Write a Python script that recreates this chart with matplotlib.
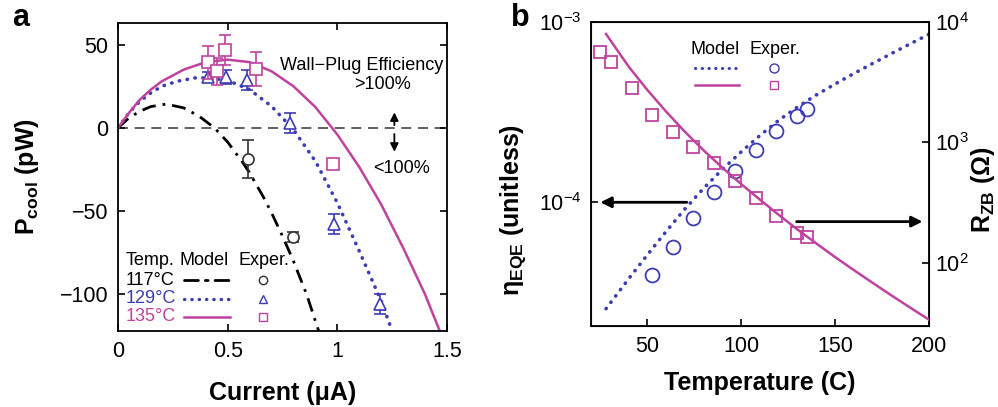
import matplotlib
matplotlib.use("Agg")
import matplotlib.pyplot as plt
from matplotlib.ticker import FixedLocator, NullLocator, FixedFormatter

plt.rcParams['font.family'] = ['Liberation Sans', 'DejaVu Sans']
plt.rcParams['mathtext.fontset'] = 'custom'
plt.rcParams['mathtext.rm'] = 'Liberation Sans'
plt.rcParams['mathtext.it'] = 'Liberation Sans:italic'
plt.rcParams['mathtext.bf'] = 'Liberation Sans:bold'
plt.rcParams['axes.unicode_minus'] = True

BLUE = '#3c3cb4'
MAGENTA = '#c0429e'
DOTS = (0, (0.1, 2.1))
DASHDOT = (0, (5, 2.5, 1, 2.5))

# ---- panel a: cooling power vs current ----
# model curves
i_117 = [0, 0.05, 0.1, 0.15, 0.22, 0.3, 0.37, 0.44, 0.5, 0.57, 0.6, 0.663, 0.7, 0.75, 0.8, 0.86, 0.915]
p_117 = [0, 6, 10, 12.8, 14.3, 12, 7, 0, -8.5, -21, -27, -41.5, -51, -65, -80, -100, -122]

i_129 = [0, 0.05, 0.1, 0.15, 0.2, 0.27, 0.35, 0.42, 0.5, 0.6, 0.7, 0.8, 0.9, 1.0, 1.1, 1.2, 1.25]
p_129 = [0, 9, 16, 21, 25, 28, 30, 30, 28.5, 23, 13, -1, -20, -45, -74, -104, -122]

i_135 = [0, 0.05, 0.1, 0.15, 0.2, 0.3, 0.4, 0.5, 0.6, 0.7, 0.8, 0.9, 1.0, 1.1, 1.2, 1.3, 1.4, 1.47]
p_135 = [0, 9, 17, 23, 28, 35, 39.5, 41, 39.5, 34, 25, 12.5, -4, -23.5, -46, -72, -100, -123]

# measurements
exp_i_117 = [0.595, 0.797]
exp_p_117 = [-18.7, -65.5]
exp_e_117 = [11.5, 3]

exp_i_129 = [0.412, 0.493, 0.588, 0.785, 0.984, 1.196]
exp_p_129 = [30.5, 30.5, 29, 3, -58, -106]
exp_e_129 = [3, 4, 6, 6, 6, 6]

exp_i_135 = [0.41, 0.45, 0.49, 0.63, 0.979]
exp_p_135 = [39.3, 34, 46.5, 35.3, -21.9]
exp_e_135 = [10, 8, 9, 10, 2]

# ---- panel b: EQE and zero-bias resistance vs temperature ----
t_model = [28, 40, 50, 60, 70, 80, 90, 100, 110, 120, 130, 140, 150, 160, 170, 180, 190, 200]
eqe_model = [2.57e-5, 3.76e-5, 5.11e-5, 6.89e-5, 9.18e-5, 1.197e-4, 1.524e-4, 1.905e-4, 2.35e-4,
             2.85e-4, 3.38e-4, 3.94e-4, 4.53e-4, 5.18e-4, 5.89e-4, 6.68e-4, 7.57e-4, 8.55e-4]
rzb_model = [7943, 4266, 2723, 1799, 1222, 855, 614, 449, 333, 249, 188, 144, 111, 86.5,
             67.8, 53.3, 42.2, 33.5]

t_exp = [25, 30.5, 42, 52.5, 63.5, 74.5, 85.7, 96.5, 107.6, 118.6, 129.6, 135.1]
rzb_exp = [5598, 4677, 2844, 1687, 1225, 919, 668, 480, 343, 244, 177, 164]
t_eqe_exp = t_exp[3:]
eqe_exp = [3.95e-5, 5.67e-5, 8.15e-5, 1.145e-4, 1.50e-4, 1.95e-4, 2.48e-4, 3.01e-4, 3.28e-4]

fig = plt.figure(figsize=(9.98, 4.07), dpi=100)

# ================= panel a =================
ax = fig.add_axes([0.1182, 0.1867, 0.3297, 0.7568])
ax.axhline(0, color='#444444', lw=1.2, ls=(0, (6, 4)), zorder=1)
ax.plot(i_117, p_117, color='black', lw=2, ls=DASHDOT)
ax.plot(i_129, p_129, color=BLUE, lw=2.6, ls=DOTS, dash_capstyle='round')
ax.plot(i_135, p_135, color=MAGENTA, lw=1.8)

ax.errorbar(exp_i_117, exp_p_117, yerr=exp_e_117, fmt='o', mfc='white', mec='#333333',
            ecolor='#333333', ms=8, mew=1.2, capsize=4, elinewidth=1.2, zorder=4)
ax.errorbar(exp_i_129, exp_p_129, yerr=exp_e_129, fmt='^', mfc='white', mec=BLUE,
            ecolor=BLUE, ms=9, mew=1.2, capsize=4, elinewidth=1.2, zorder=4)
ax.errorbar(exp_i_135, exp_p_135, yerr=exp_e_135, fmt='s', mfc='white', mec=MAGENTA,
            ecolor=MAGENTA, ms=8, mew=1.2, capsize=4, elinewidth=1.2, zorder=5)

ax.set_xlim(0, 1.5)
ax.set_ylim(-122, 63)
ax.xaxis.set_major_locator(FixedLocator([0, 0.5, 1, 1.5]))
ax.xaxis.set_major_formatter(FixedFormatter(['0', '0.5', '1', '1.5']))
ax.yaxis.set_major_locator(FixedLocator([-100, -50, 0, 50]))
ax.tick_params(direction='in', length=5, width=1.2, labelsize=15.5, top=True, right=True, pad=7)
for s in ax.spines.values():
    s.set_linewidth(1.3)

ax.set_xlabel('Current (μA)', fontsize=18, fontweight='bold', va='center')
ax.xaxis.set_label_coords(0.5, -0.2)
ax.set_ylabel(r'$\mathbf{P_{cool}}$ (pW)', fontsize=18, fontweight='bold', va='center')
ax.yaxis.set_label_coords(-0.275, 0.5)

ax.text(0.74, 0.8636, 'Wall\u2212Plug Efficiency', transform=ax.transAxes, fontsize=13,
        ha='center', va='center')
ax.text(0.805, 0.799, '>100%', transform=ax.transAxes, fontsize=13, ha='center', va='center')
ax.text(0.862, 0.529, '<100%', transform=ax.transAxes, fontsize=13, ha='center', va='center')
ax.annotate('', xy=(1.26, 11), xytext=(1.26, 0),
            arrowprops=dict(arrowstyle='-|>', color='black', lw=1.3, mutation_scale=12))
ax.annotate('', xy=(1.26, -16), xytext=(1.26, -2),
            arrowprops=dict(arrowstyle='-|>', color='black', lw=1.3, mutation_scale=12))

# hand-made legend table
ax.text(0.024, 0.2305, 'Temp.', transform=ax.transAxes, fontsize=13, va='center')
ax.text(0.262, 0.2305, 'Model', transform=ax.transAxes, fontsize=13, va='center', ha='center')
ax.text(0.445, 0.2305, 'Exper.', transform=ax.transAxes, fontsize=13, va='center', ha='center')
rows = [(0.1656, '117°C', 'black', DASHDOT, 'o', '#333333', 2.0),
        (0.104, '129°C', BLUE, DOTS, '^', BLUE, 2.4),
        (0.0464, '135°C', MAGENTA, '-', 's', MAGENTA, 1.8)]
for y, lab, c, ls, m, mc, lw in rows:
    ax.text(0.024, y, lab, transform=ax.transAxes, fontsize=13, va='center', color=c)
    ax.plot([0.2, 0.34], [y, y], transform=ax.transAxes, color=c, ls=ls, lw=lw,
            dash_capstyle='round', clip_on=False)
    ax.plot([0.441], [y], transform=ax.transAxes, marker=m, mfc='white', mec=mc, ms=6,
            mew=1, ls='none', clip_on=False)

fig.text(0.012, 0.955, 'a', fontsize=22, fontweight='bold', va='center')

# ================= panel b =================
bx = fig.add_axes([0.5922, 0.199, 0.3387, 0.747])
bx.set_yscale('log')
bx.plot(t_model, eqe_model, color=BLUE, lw=2.6, ls=DOTS, dash_capstyle='round')
bx.plot(t_eqe_exp, eqe_exp, 'o', mfc='none', mec=BLUE, ms=10, mew=1.3)
bx.set_xlim(20, 200)
bx.set_ylim(2.06e-5, 1e-3)
bx.xaxis.set_major_locator(FixedLocator([50, 100, 150, 200]))
bx.yaxis.set_major_locator(FixedLocator([1e-4, 1e-3]))
bx.yaxis.set_minor_locator(NullLocator())
bx.tick_params(direction='in', length=5, width=1.2, labelsize=15.5, pad=7)
for s in bx.spines.values():
    s.set_linewidth(1.3)

bx2 = bx.twinx()
bx2.set_yscale('log')
bx2.plot(t_model, rzb_model, color=MAGENTA, lw=1.8)
bx2.plot(t_exp, rzb_exp, 's', mfc='none', mec=MAGENTA, ms=8.5, mew=1.3)
bx2.set_ylim(29.7, 1e4)
bx2.yaxis.set_major_locator(FixedLocator([1e2, 1e3, 1e4]))
bx2.yaxis.set_minor_locator(NullLocator())
bx2.tick_params(direction='in', length=5, width=1.2, labelsize=15.5, pad=4)

# arrows pointing to each axis
bx.annotate('', xy=(23.5, 1e-4), xytext=(72.5, 1e-4),
            arrowprops=dict(arrowstyle='-|>', color='black', lw=2, mutation_scale=16))
bx2.annotate('', xy=(198, 219), xytext=(128, 219),
             arrowprops=dict(arrowstyle='-|>', color='black', lw=2, mutation_scale=16))

bx.set_xlabel('Temperature (C)', fontsize=18, fontweight='bold', va='center')
bx.xaxis.set_label_coords(0.5, -0.1875)
bx.set_ylabel('η$_{\\mathbf{EQE}}$ (unitless)', fontsize=18, fontweight='bold', va='center')
bx.yaxis.set_label_coords(-0.23, 0.38)
bx2.set_ylabel(r'$\mathbf{R_{ZB}}$ (Ω)', fontsize=18, fontweight='bold', rotation=90,
               va='center')
bx2.yaxis.set_label_coords(1.16, 0.45)

# legend for panel b
bx.text(0.367, 0.908, 'Model', transform=bx.transAxes, fontsize=13, ha='center', va='center')
bx.text(0.544, 0.908, 'Exper.', transform=bx.transAxes, fontsize=13, ha='center', va='center')
bx.plot([0.308, 0.438], [0.8477, 0.8477], transform=bx.transAxes, color=BLUE, lw=2.2,
        ls=DOTS, dash_capstyle='round')
bx.plot([0.541], [0.8477], transform=bx.transAxes, marker='o', mfc='none', mec=BLUE, ms=6.5, mew=1)
bx.plot([0.308, 0.438], [0.793, 0.793], transform=bx.transAxes, color=MAGENTA, lw=1.8)
bx.plot([0.541], [0.793], transform=bx.transAxes, marker='s', mfc='none', mec=MAGENTA, ms=6, mew=1)

fig.text(0.512, 0.955, 'b', fontsize=22, fontweight='bold', va='center')

fig.savefig('out.png', dpi=100)
